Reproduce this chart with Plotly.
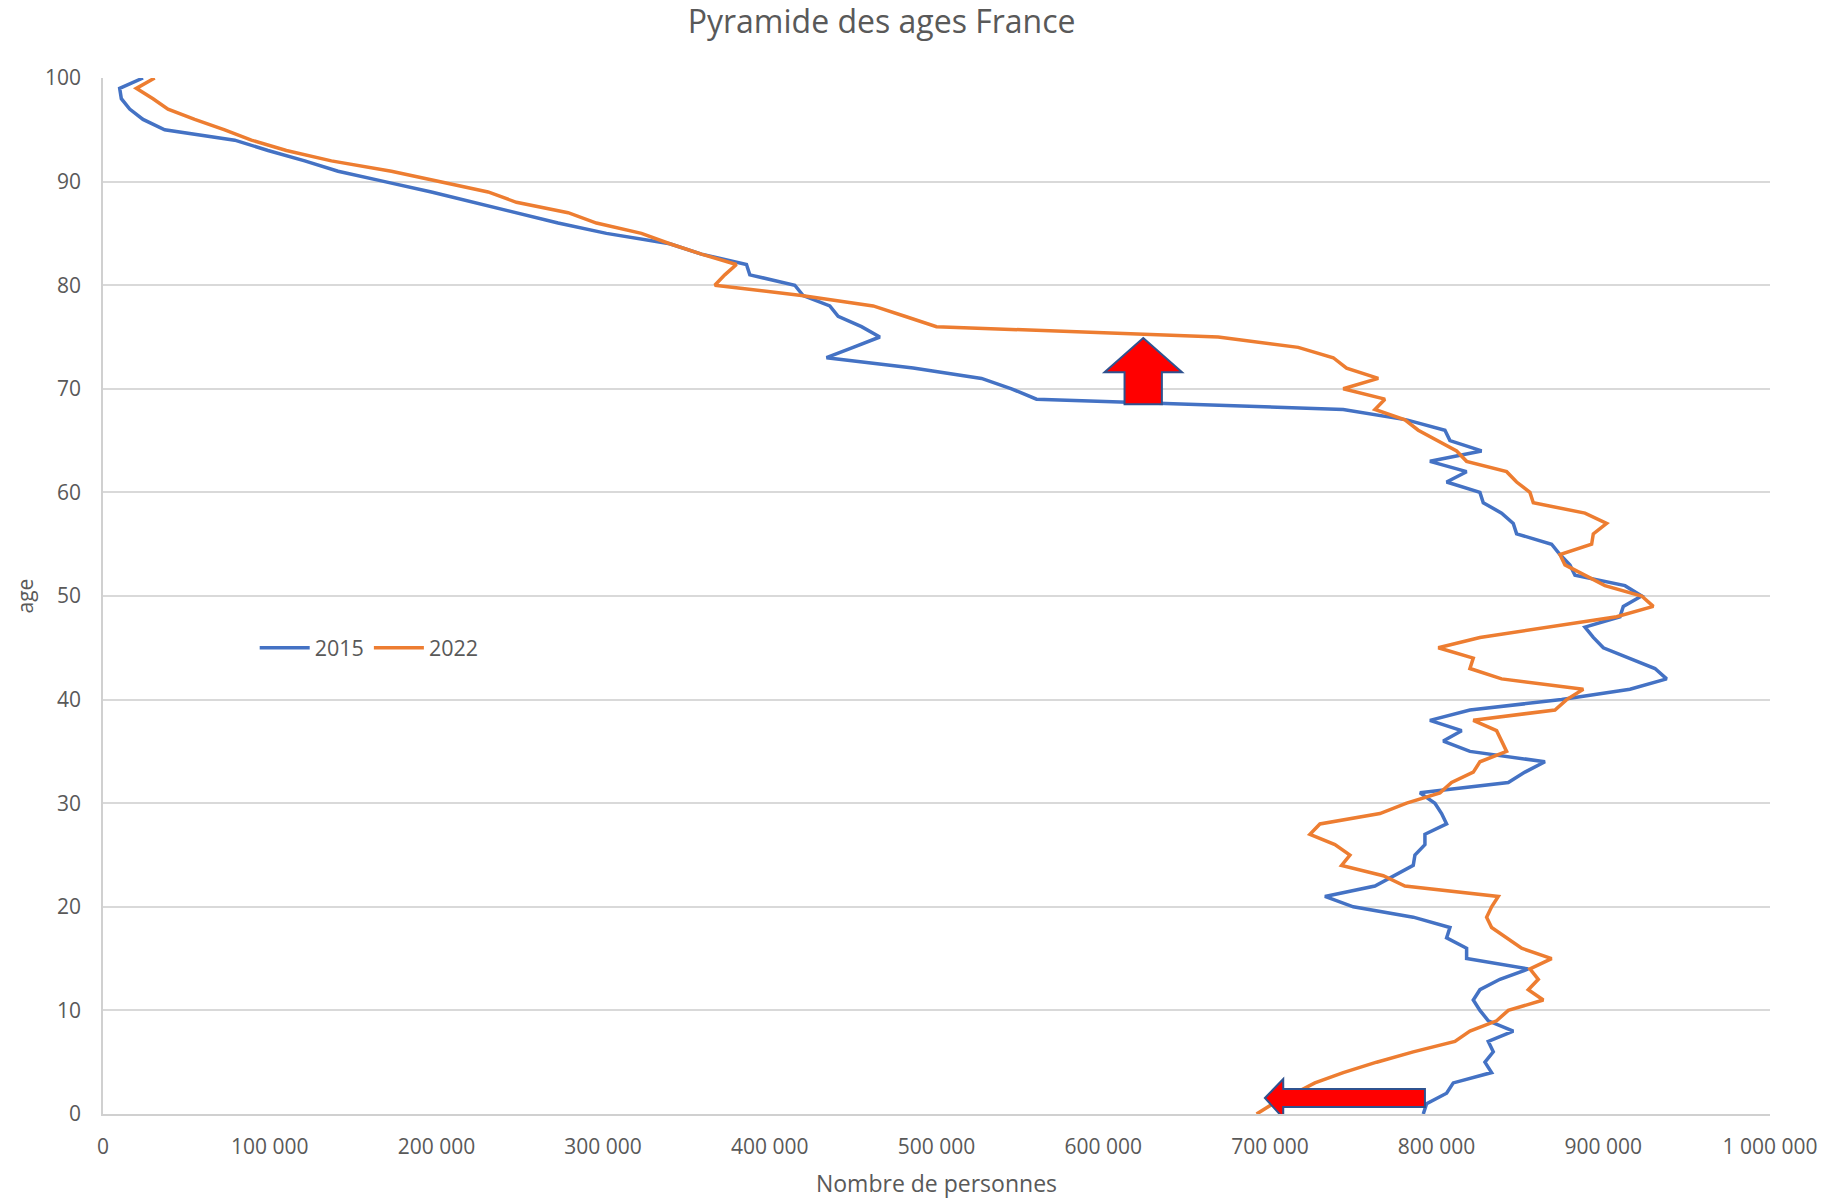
import plotly.graph_objects as go

ages = list(range(0, 101))

pop_2015 = [
    792, 794, 806, 810, 833, 829, 834, 831, 846, 831,
    826, 822, 826, 838, 855, 818, 818, 806, 808, 786,
    750, 733, 763, 774, 786, 787, 793, 793, 806, 803,
    799, 790, 843, 853, 865, 820, 804, 815, 796, 820,
    875, 916, 938, 931, 916, 900, 894, 889, 910, 912,
    923, 913, 883, 880, 874, 869, 848, 846, 839, 828,
    826, 806, 818, 796, 827, 808, 805, 782, 744, 560,
    545, 527, 486, 434, 450, 466, 455, 441, 436, 420,
    415, 388, 386, 359, 340, 302, 273, 248, 223, 197,
    169, 141, 121, 99, 79, 37, 24, 16, 11, 10,
    24,
]
pop_2015 = [v * 1000 for v in pop_2015]

pop_2022 = [
    692, 702, 715, 727, 744, 764, 786, 811, 820, 836,
    843, 864, 855, 861, 856, 869, 851, 842, 833, 830,
    833, 837, 781, 768, 743, 748, 739, 724, 730, 766,
    782, 802, 809, 822, 826, 842, 839, 836, 822, 871,
    878, 888, 839, 820, 822, 801, 826, 867, 908, 930,
    923, 901, 889, 877, 874, 893, 894, 902, 889, 858,
    856, 848, 842, 818, 812, 801, 789, 781, 763, 769,
    744, 765, 746, 738, 717, 669, 500, 481, 462, 419,
    367, 373, 380, 359, 340, 323, 296, 279, 248, 231,
    201, 173, 137, 110, 89, 73, 55, 39, 30, 20,
    31,
]
pop_2022 = [v * 1000 for v in pop_2022]

x_tickvals = [0, 100000, 200000, 300000, 400000, 500000, 600000, 700000, 800000, 900000, 1000000]
x_ticktext = ["0", "100 000", "200 000", "300 000", "400 000", "500 000", "600 000",
              "700 000", "800 000", "900 000", "1 000 000"]
y_tickvals = [0, 10, 20, 30, 40, 50, 60, 70, 80, 90, 100]

FONT = "Open Sans"
GREY = "#595959"

fig = go.Figure()
fig.add_trace(go.Scatter(x=pop_2015, y=ages, mode="lines", name="2015",
                         line=dict(color="#4472C4", width=3.5)))
fig.add_trace(go.Scatter(x=pop_2022, y=ages, mode="lines", name="2022",
                         line=dict(color="#ED7D31", width=3.5)))

# Arrows (annotation shapes, data coordinates)
up = dict(tip=(624000, 74.9), head_y=71.6, head_x=(600800, 647300),
          shaft_x=(612800, 635200), bottom=68.5)
left = dict(tip=(697000, 1.54), head_x=708000, head_y=(3.38, -0.39),
            shaft_y=(2.42, 0.68), right=793000)

up_path = (f"M {up['tip'][0]},{up['tip'][1]} L {up['head_x'][1]},{up['head_y']} "
           f"L {up['shaft_x'][1]},{up['head_y']} L {up['shaft_x'][1]},{up['bottom']} "
           f"L {up['shaft_x'][0]},{up['bottom']} L {up['shaft_x'][0]},{up['head_y']} "
           f"L {up['head_x'][0]},{up['head_y']} Z")
left_path = (f"M {left['tip'][0]},{left['tip'][1]} L {left['head_x']},{left['head_y'][0]} "
             f"L {left['head_x']},{left['shaft_y'][0]} L {left['right']},{left['shaft_y'][0]} "
             f"L {left['right']},{left['shaft_y'][1]} L {left['head_x']},{left['shaft_y'][1]} "
             f"L {left['head_x']},{left['head_y'][1]} Z")
for p in (up_path, left_path):
    fig.add_shape(type="path", path=p, xref="x", yref="y",
                  fillcolor="#FF0000", line=dict(color="#2F528F", width=2), layer="above")

fig.update_layout(
    width=1834, height=1199,
    margin=dict(l=103, r=64, t=78, b=85, autoexpand=False),
    paper_bgcolor="white", plot_bgcolor="white",
    font=dict(family=FONT, color=GREY, size=21),
    title=dict(text="Pyramide des ages France", x=0.4807, xref="container", xanchor="center",
               y=0.982, yref="container", yanchor="middle",
               font=dict(family=FONT, size=32, color=GREY)),
    showlegend=True,
    legend=dict(orientation="h", x=0.091, y=0.45, xanchor="left", yanchor="middle",
                font=dict(family=FONT, size=21.5, color=GREY), bgcolor="rgba(0,0,0,0)",
                itemwidth=50, tracegroupgap=0),
)
fig.update_xaxes(range=[0, 1000000], tickvals=x_tickvals, ticktext=x_ticktext,
                 automargin=False,
                 showgrid=False, zeroline=False, showline=True, linecolor="#D0D0D0", linewidth=1.5,
                 ticks="", ticklabelstandoff=13,
                 tickfont=dict(family=FONT, size=21, color=GREY),
                 title=dict(text="Nombre de personnes", standoff=20,
                            font=dict(family=FONT, size=23, color=GREY)))
fig.update_yaxes(range=[0, 100], tickvals=y_tickvals,
                 automargin=False,
                 showgrid=True, gridcolor="#D9D9D9", gridwidth=1.5, zeroline=False,
                 showline=True, linecolor="#D0D0D0", linewidth=1.5,
                 ticks="", ticklabelstandoff=16,
                 tickfont=dict(family=FONT, size=21, color=GREY),
                 title=dict(text="age", standoff=6,
                            font=dict(family=FONT, size=21, color=GREY)))

fig.write_html("out.html", config={"displayModeBar": False},
               post_script="document.body.style.margin='0';")
